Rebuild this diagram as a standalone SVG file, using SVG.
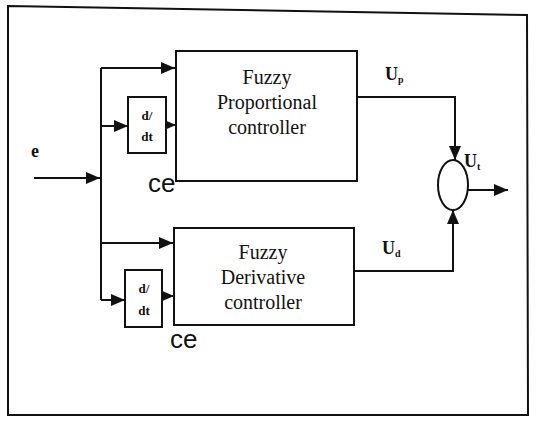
<svg xmlns="http://www.w3.org/2000/svg" width="536" height="421" viewBox="0 0 536 421">
<style>
.ln{fill:none;stroke:#111;stroke-width:2}
.bx{fill:#fff;stroke:#111;stroke-width:2}
.t{font-family:"Liberation Serif","Times New Roman",serif;font-size:20px;fill:#111;text-anchor:middle}
.s{font-family:"Liberation Serif","Times New Roman",serif;font-size:13px;font-weight:bold;fill:#111;text-anchor:middle}
.ce{font-family:"Liberation Sans",Arial,sans-serif;font-size:26px;fill:#111}
.u{font-family:"Liberation Serif","Times New Roman",serif;font-size:18px;font-weight:bold;fill:#111}
</style>
<defs>
<marker id="ar" markerWidth="14" markerHeight="12" refX="14" refY="6" orient="auto" markerUnits="userSpaceOnUse">
<path d="M0,0 L14,6 L0,12 Z" fill="#111"/>
</marker>
</defs>
<rect width="536" height="421" fill="#fff"/>
<path d="M8,6 L527,15 L528,415 L8,415 Z" class="ln"/>
<g id="connectors">
<line x1="34" y1="178" x2="100" y2="178" class="ln" marker-end="url(#ar)"/>
<path d="M101,68 L101,300" class="ln"/>
<line x1="101" y1="68" x2="175" y2="68" class="ln" marker-end="url(#ar)"/>
<line x1="101" y1="126" x2="128" y2="126" class="ln" marker-end="url(#ar)"/>
<line x1="166" y1="125" x2="176" y2="125" class="ln" marker-end="url(#ar)"/>
<line x1="101" y1="243" x2="173" y2="243" class="ln" marker-end="url(#ar)"/>
<line x1="101" y1="300" x2="125" y2="300" class="ln" marker-end="url(#ar)"/>
<line x1="162" y1="296" x2="174" y2="296" class="ln" marker-end="url(#ar)"/>
<path d="M357,97 L455,97 L455,160" class="ln" marker-end="url(#ar)"/>
<path d="M354,271 L453,271 L453,210" class="ln" marker-end="url(#ar)"/>
<line x1="468" y1="190" x2="508" y2="190" class="ln" marker-end="url(#ar)"/>
</g>
<g id="fuzzyP">
<rect x="176" y="51" width="181" height="130" class="bx"/>
<text class="t" x="267" y="84">Fuzzy</text>
<text class="t" x="267" y="109">Proportional</text>
<text class="t" x="267" y="134">controller</text>
</g>
<g id="fuzzyD">
<rect x="174" y="228" width="180" height="97" class="bx"/>
<text class="t" x="263" y="259">Fuzzy</text>
<text class="t" x="263" y="284">Derivative</text>
<text class="t" x="263" y="309">controller</text>
</g>
<g id="ddt1">
<rect x="128" y="97" width="38" height="56" class="bx"/>
<text class="s" x="147" y="120">d/</text>
<text class="s" x="147" y="141">dt</text>
</g>
<g id="ddt2">
<rect x="125" y="270" width="37" height="57" class="bx"/>
<text class="s" x="144" y="293">d/</text>
<text class="s" x="144" y="315">dt</text>
</g>
<g id="sum">
<ellipse cx="453" cy="185" rx="15" ry="25" class="bx"/>
</g>
<g id="labels">
<text class="u" x="31" y="157" font-size="14">e</text>
<text class="ce" x="148" y="192">ce</text>
<text class="ce" x="170" y="348">ce</text>
<text class="u" x="385" y="80">U<tspan font-size="10" dy="3">p</tspan></text>
<text class="u" x="464" y="167">U<tspan font-size="10" dy="3">t</tspan></text>
<text class="u" x="382" y="254">U<tspan font-size="10" dy="3">d</tspan></text>
</g>
</svg>
